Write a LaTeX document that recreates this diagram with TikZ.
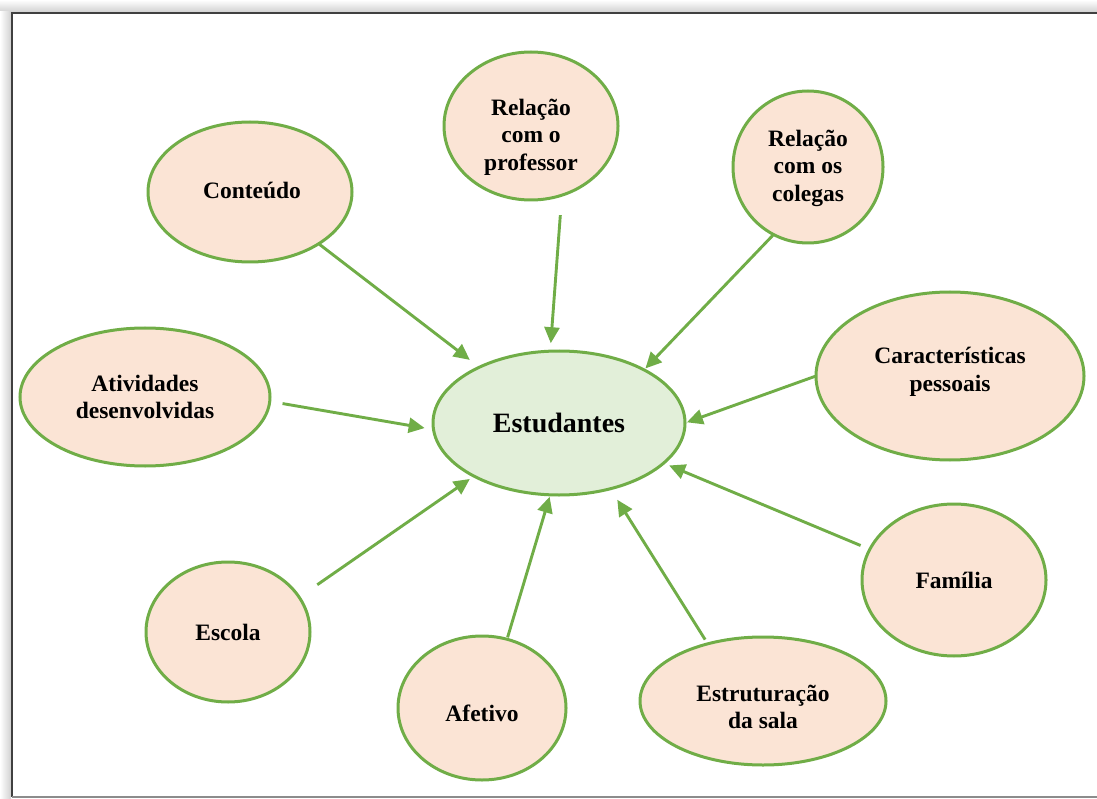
\documentclass[tikz,border=0pt]{standalone}
\usepackage{fontspec}
\setmainfont{Liberation Serif}
\usetikzlibrary{shapes.geometric,arrows.meta}
\definecolor{leafline}{HTML}{70AD47}
\definecolor{peach}{HTML}{FBE4D5}
\definecolor{mint}{HTML}{E2EFD9}
\tikzset{
  bubble/.style={ellipse, draw=leafline, line width=3pt, fill=peach,
    inner sep=0pt, outer sep=0pt},
  hub/.style={bubble, fill=mint},
  lbl/.style={align=center, font=\bfseries\fontsize{23.5}{27.5}\selectfont, inner sep=0pt},
  feed/.style={draw=leafline, line width=2.9pt,
    -{Triangle[length=16pt,width=15pt]}},
}
\begin{document}
\begin{tikzpicture}[x=1pt,y=-1pt]
\useasboundingbox (0,0) rectangle (1097,799);
% frame with a soft shadow along the top and left
\shade[top color=white, bottom color=black!18] (0,0) rectangle (1097,12);
\shade[left color=white, right color=black!18] (0,12) rectangle (11,799);
\draw[black!75, line width=1.6pt] (1097,13) -- (12,13) -- (12,797);
\draw[black!45, line width=1.2pt] (12,797) -- (1097,797);

% central topic
\node[hub, minimum width=252pt, minimum height=144pt] (estud) at (559,423) {};
\node[lbl, font=\bfseries\fontsize{28}{32}\selectfont] (estudT) at (559,423) {Estudantes};

% surrounding factors
\node[bubble, minimum width=204pt, minimum height=140pt] (cont) at (250,192) {};
\node[bubble, minimum width=174pt, minimum height=148pt] (prof) at (531,126) {};
\node[bubble, minimum width=150pt, minimum height=152pt] (coleg) at (808,167) {};
\node[bubble, minimum width=268pt, minimum height=168pt] (carac) at (950,376) {};
\node[bubble, minimum width=250pt, minimum height=138pt] (ativ) at (145,397) {};
\node[bubble, minimum width=184pt, minimum height=152pt] (fam) at (954,580) {};
\node[bubble, minimum width=164pt, minimum height=140pt] (esc) at (228,632) {};
\node[bubble, minimum width=168pt, minimum height=144pt] (afet) at (482,708) {};
\node[bubble, minimum width=246pt, minimum height=128pt] (estr) at (763,701) {};

\node[lbl] (contT)  at (252,190) {Conteúdo};
\node[lbl] (profT)  at (531,137) {Relação\\com o\\professor};
\node[lbl] (colegT) at (808,168) {Relação\\com os\\colegas};
\node[lbl] (caracT) at (950,372) {Características\\pessoais};
\node[lbl] (ativT)  at (145,397) {Atividades\\desenvolvidas};
\node[lbl] (famT)   at (954,580) {Família};
\node[lbl] (escT)   at (228,632) {Escola};
\node[lbl] (afetT)  at (482,713) {Afetivo};
\node[lbl] (estrT)  at (763,707) {Estruturação\\da sala};

% influences pointing at the students
\draw[feed, shorten <=1pt,  shorten >=12pt] (cont.-37)   -- (estud.145);
\draw[feed, shorten <=20pt, shorten >=8pt]  (prof.-66)   -- (estud.97);
\draw[feed, shorten <=1pt,  shorten >=2pt]  (coleg.-117) -- (estud.32);
\draw[feed, shorten <=0pt,  shorten >=2pt]  (carac.180)  -- (estud.0);
\draw[feed, shorten <=13pt, shorten >=9pt]  (ativ.-2)    -- (estud.183);
\draw[feed, shorten <=10pt, shorten >=6pt]  (fam.160)    -- (estud.-21);
\draw[feed, shorten <=5pt,  shorten >=13pt] (estr.134)   -- (estud.-52);
\draw[feed, shorten <=2pt,  shorten >=2pt]  (afet.70)    -- (estud.-97);
\draw[feed, shorten <=22pt, shorten >=5pt]  (esc.26)     -- (estud.-148);
\end{tikzpicture}
\end{document}
